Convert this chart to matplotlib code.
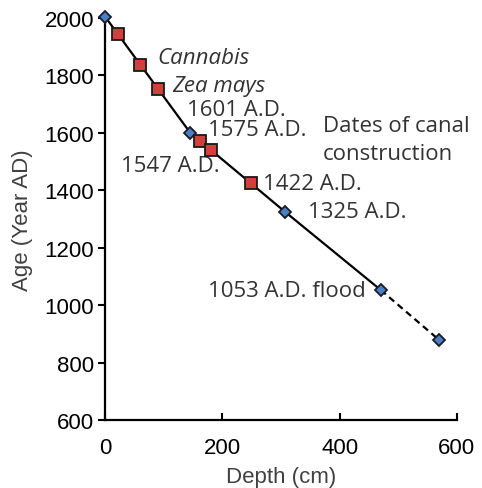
import matplotlib.pyplot as plt

# dated horizons (blue diamonds) that define the age-depth line
date_depth = [0, 145, 307, 470, 569]
date_age = [2005, 1601, 1325, 1053, 880]

# canal construction / pollen horizons (red squares)
canal_depth = [22, 60, 90, 162, 180, 249]
canal_age = [1944, 1838, 1754, 1572, 1541, 1424]

xticks = [0, 200, 400, 600]
yticks = [600, 800, 1000, 1200, 1400, 1600, 1800, 2000]

fig = plt.figure(figsize=(4.82, 4.89), dpi=100)
ax = fig.add_axes([0.218, 0.139, 0.730, 0.822])

ax.plot(date_depth[:4], date_age[:4], color='black', lw=1.6, zorder=2)
ax.plot(date_depth[3:], date_age[3:], color='black', lw=1.6, ls=(0, (3, 2)), zorder=2)
ax.plot(date_depth, date_age, ls='none', marker='D', ms=6, mfc='#4a7fc1',
        mec='#1a1a2a', mew=1.3, zorder=3)
ax.plot(canal_depth, canal_age, ls='none', marker='s', ms=9, mfc='#d2403c',
        mec='#1a1a1a', mew=1.3, zorder=4)

ax.set_xlim(0, 600)
ax.set_ylim(600, 2000)
ax.set_xticks(xticks)
ax.set_yticks(yticks)
ax.spines['top'].set_visible(False)
ax.spines['right'].set_visible(False)
for s in ['left', 'bottom']:
    ax.spines[s].set_linewidth(1.6)
ax.spines['left'].set_zorder(1)
ax.tick_params(axis='y', direction='out', length=5, width=1.5, labelsize=16,
               pad=3)
ax.tick_params(axis='x', direction='in', length=5, width=1.5, labelsize=16,
               pad=12)
for lab in ax.get_xticklabels() + ax.get_yticklabels():
    lab.set_family('Liberation Sans')
for line in ax.lines:
    line.set_clip_on(False)

ax.set_xlabel('Depth (cm)', family='Liberation Sans', fontsize=16,
              color='#404040', labelpad=6)
ax.set_ylabel('Age (Year AD)', family='Liberation Sans', fontsize=16,
              color='#404040', labelpad=8)

tk = dict(family='Open Sans', fontsize=16, color='#333333', va='center')
ax.text(90, 1862, 'Cannabis', style='italic', **tk)
ax.text(115, 1765, 'Zea mays', style='italic', **tk)
ax.text(140, 1680, '1601 A.D.', **tk)
ax.text(176, 1613, '1575 A.D.', **tk)
ax.text(27, 1485, '1547 A.D.', **tk)
ax.text(269, 1425, '1422 A.D.', **tk)
ax.text(346, 1325, '1325 A.D.', **tk)
ax.text(176, 1050, '1053 A.D. flood', **tk)
ax.text(372, 1578, 'Dates of canal\nconstruction', linespacing=1.45, **tk)

fig.savefig('out.png', dpi=100)
